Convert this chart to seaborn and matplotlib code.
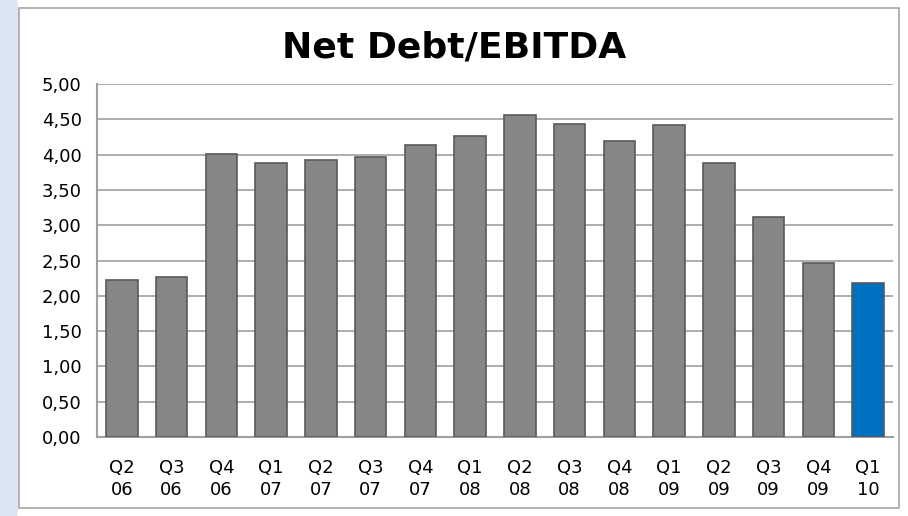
import matplotlib
matplotlib.use('Agg')
import matplotlib.pyplot as plt
import seaborn as sns
import pandas as pd
from matplotlib.patches import Ellipse, Rectangle

quarters = ['Q2\n06', 'Q3\n06', 'Q4\n06', 'Q1\n07', 'Q2\n07', 'Q3\n07', 'Q4\n07', 'Q1\n08',
            'Q2\n08', 'Q3\n08', 'Q4\n08', 'Q1\n09', 'Q2\n09', 'Q3\n09', 'Q4\n09', 'Q1\n10']
ratio = [2.23, 2.27, 4.01, 3.88, 3.92, 3.97, 4.14, 4.27,
         4.56, 4.43, 4.19, 4.42, 3.88, 3.11, 2.47, 2.18]
highlight = ['old'] * 15 + ['new']

df = pd.DataFrame({'quarter': quarters, 'ratio': ratio, 'kind': highlight})

sns.set_style('white')
plt.rcParams['font.family'] = ['DejaVu Sans']
plt.rcParams['text.color'] = 'black'

fig = plt.figure(figsize=(9.08, 5.16), dpi=100)
# light blue decoration on the left edge
fig.patches.append(Ellipse((0.0, 0.5), 0.06, 1.3, transform=fig.transFigure,
                           facecolor='#dce6f2', edgecolor='none', zorder=0))
fig.patches.append(Rectangle((19 / 908, 8 / 516), 880 / 908, 500 / 516, transform=fig.transFigure,
                             facecolor='white', edgecolor='#a6a6a6', lw=1.2, zorder=1))

ax = fig.add_axes([97 / 908, 79 / 516, 796 / 908, 353 / 516])
ax.set_zorder(2)
ax.patch.set_alpha(0)

sns.barplot(data=df, x='quarter', y='ratio', hue='kind',
            palette={'old': '#868686', 'new': '#0070c0'}, saturation=1,
            width=0.63, dodge=False, legend=False, ax=ax,
            edgecolor='#5a5a5a', linewidth=1.2, zorder=3)

ax.set_ylim(0, 5)
ax.set_yticks([i * 0.5 for i in range(11)])
ax.set_yticklabels([f'{i * 0.5:.2f}'.replace('.', ',') for i in range(11)])
ax.yaxis.grid(True, color='#a0a0a0', lw=1.2, zorder=0)
ax.set_axisbelow(True)
ax.set_xlabel('')
ax.set_ylabel('')
for s in ['top', 'right']:
    ax.spines[s].set_visible(False)
for s in ['left', 'bottom']:
    ax.spines[s].set_color('#a0a0a0')
    ax.spines[s].set_linewidth(1.5)
ax.tick_params(axis='y', length=6, color='#a0a0a0', width=1.2, labelsize=13, pad=5,
               labelcolor='black')
ax.tick_params(axis='x', length=0, labelsize=13, pad=16, labelcolor='black')
for lbl in ax.get_xticklabels():
    lbl.set_linespacing(1.3)

fig.text(0.5, 0.908, 'Net Debt/EBITDA', ha='center', va='center',
         fontsize=26, fontweight='bold', color='black', zorder=3)

fig.savefig('out.png', dpi=100)
